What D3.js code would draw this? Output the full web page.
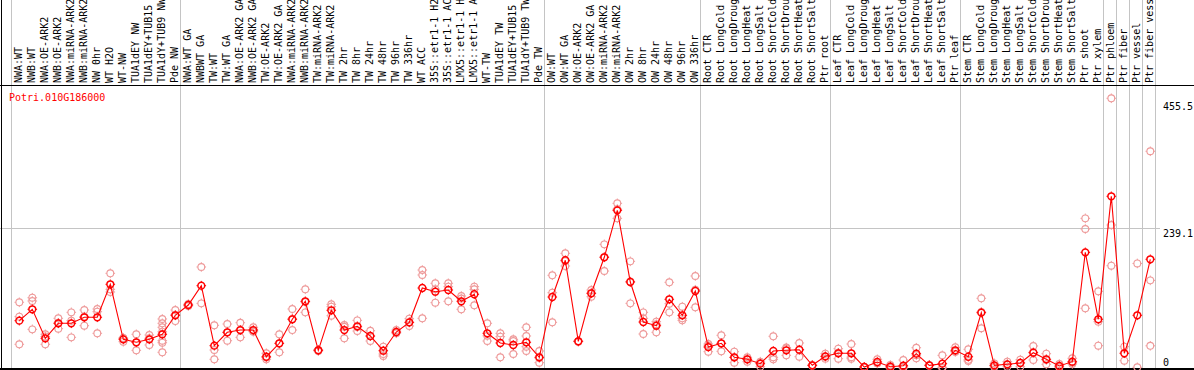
<!DOCTYPE html>
<html>
<head>
<meta charset="utf-8">
<script src="https://cdn.jsdelivr.net/npm/d3@7"></script>
<style>
  html, body { margin: 0; padding: 0; background: #ffffff; overflow: hidden; }
  svg { display: block; }
</style>
</head>
<body>
<div id="chart"></div>
<script>
// Expression profile for one gene, one column per sample
const geneId = 'Potri.010G186000';

const samples = [
  'NWA:WT', 'NWB:WT', 'NWA:OE-ARK2', 'NWB:OE-ARK2', 'NWA:miRNA-ARK2', 'NWB:miRNA-ARK2', 'NW 0hr', 'WT H2O', 'WT-NW',
  'TUA1dEY NW', 'TUA1dEY+TUB15 NW', 'TUA1dY+TUB9 NW', 'Pde NW',
  'NWA:WT GA', 'NWBWT GA', 'TW:WT', 'TW:WT GA', 'NWA:OE-ARK2 GA', 'NWB:OE-ARK2 GA', 'TW:OE-ARK2', 'TW:OE-ARK2 GA',
  'NWA:miRNA-ARK2', 'NWB:miRNA-ARK2', 'TW:miRNA-ARK2', 'TW:miRNA-ARK2', 'TW 2hr', 'TW 8hr', 'TW 24hr', 'TW 48hr',
  'TW 96hr', 'TW 336hr', 'WT ACC', '35S::etr1-1 H2O', '35S::etr1-1 ACC', 'LMX5::etr1-1 H2O', 'LMX5::etr1-1 ACC',
  'WT-TW', 'TUA1dEY TW', 'TUA1dEY+TUB15 TW', 'TUA1dY+TUB9 TW', 'Pde TW',
  'OW:WT', 'OW:WT GA', 'OW:OE-ARK2', 'OW:OE-ARK2 GA', 'OW:miRNA-ARK2', 'OW:miRNA-ARK2', 'OW 2hr', 'OW 8hr',
  'OW 24hr', 'OW 48hr', 'OW 96hr', 'OW 336hr',
  'Root CTR', 'Root LongCold', 'Root LongDrought', 'Root LongHeat', 'Root LongSalt', 'Root ShortCold',
  'Root ShortDrought', 'Root ShortHeat', 'Root ShortSalt', 'Ptr root',
  'Leaf CTR', 'Leaf LongCold', 'Leaf LongDrought', 'Leaf LongHeat', 'Leaf LongSalt', 'Leaf ShortCold',
  'Leaf ShortDrought', 'Leaf ShortHeat', 'Leaf ShortSalt', 'Ptr leaf',
  'Stem CTR', 'Stem LongCold', 'Stem LongDrought', 'Stem LongHeat', 'Stem LongSalt', 'Stem ShortCold',
  'Stem ShortDrought', 'Stem ShortHeat', 'Stem ShortSalt', 'Ptr shoot', 'Ptr xylem',
  'Ptr phloem', 'Ptr fiber', 'Ptr vessel', 'Ptr fiber vessel'
];

// mean expression per sample (red line)
const means = [
  81.0, 100.5, 50.8, 76.5, 76.5, 86.8, 86.8, 143.3, 49.1, 44.0, 49.1, 57.7, 90.2,
  107.8, 140.9, 38.2, 61.1, 65.0, 65.0, 19.3, 42.3, 83.4, 114.2, 30.3, 98.8, 65.0, 71.4, 54.8, 29.6,
  61.6, 78.2, 136.9, 130.6, 133.5, 114.2, 126.2, 59.4, 42.8, 39.4, 44.0, 18.3,
  121.5, 184.4, 45.7, 127.9, 189.5, 269.9, 147.2, 78.7, 72.4, 117.6, 90.2, 131.8,
  35.9, 42.3, 18.3, 14.9, 7.4, 29.1, 30.3, 31.3, 4.6, 20.0,
  25.2, 25.2, 1.7, 10.3, 2.2, 3.9, 24.5, 4.6, 7.4, 30.3,
  19.3, 94.7, 4.6, 6.3, 8.6, 26.2, 14.9, 3.4, 10.8, 198.0, 83.4,
  293.9, 25.2, 90.2, 186.1
];

// individual replicates per sample (pink circles)
const replicates = [
  [112.5, 87.8, 40.6], [120.3, 114.7, 66.2], [57.7, 54, 40.6], [85.1, 77, 67.3], [95.3, 81, 52.5],
  [99.3, 88, 72.4], [101, 96.4, 59.4], [162.1, 134.7, 130.1], [50.8, 45.0, 51.5], [57.7, 44, 30.3],
  [56.5, 51, 39.4], [83.9, 76.5, 69.7, 62.1, 46.7, 43.3, 26.9], [99.3, 91, 80.4],
  [109.5, 106.1, 107.8], [172.9, 110.7], [73.1, 30.8, 14.9], [75.3, 46.7, 61], [77.5, 52.5, 65],
  [69.7, 62.1, 63], [25.2, 14.9, 18], [57.7, 26.9, 42], [101, 65, 84], [134.7, 95.3, 113],
  [29, 31, 31], [109.0, 104.9, 89.5], [73.6, 70.6, 50.8], [81.6, 70, 63.3], [63.8, 54.5, 46.2],
  [36.5, 24.0, 20.5], [65, 59.4, 61], [84.4, 71.9, 78], [167.7, 159.2, 85.1], [145, 135, 111.8],
  [145, 139.2, 114.2], [123.2, 119, 100.5], [139.2, 134.7, 107.3], [76.5, 55, 46.2],
  [59.4, 53.6, 18.3], [49.1, 46.2, 24.0], [69.7, 54.8, 36.5, 29.1], [29.1, 9.1, 17],
  [158.7, 128.9, 78.2], [196.3, 174.6, 183], [45, 46, 46], [133.5, 122.0, 128], [211.7, 166.0, 190],
  [281.9, 256.2, 272], [182.6, 110.7, 148], [95.3, 85.1, 58.2], [79.3, 75, 61.1], [146.7, 95.3, 110],
  [104.9, 81.6, 85], [157.5, 103.9, 134],
  [41.1, 38, 27.9], [56.0, 28.6, 42], [27.9, 9.1, 18], [18.3, 10.8, 15], [10.8, 2.2, 9],
  [54.3, 18.3, 14.9], [35, 33.7, 21.7], [42.8, 19.3, 31], [4, 5, 4.6], [24.5, 19.3, 16],
  [33.0, 15.9, 26], [41.1, 18.6, 15.9], [1, 2, 2], [14.9, 8.0, 8], [5.1, 0, 1.5], [13.7, 2.2, 0],
  [34.7, 22, 16.6], [4.6, 4, 5], [21.7, 1.2, 0], [35.4, 27.9, 28],
  [32.0, 14, 12.0], [119.3, 68.0, 96], [8.0, 4, 1.7], [10.8, 6, 2.2], [14.2, 9, 2.2],
  [37.7, 27, 13.7], [24.5, 14, 6.3], [6.8, 2, 1.2], [16.6, 9, 6.8], [256.2, 237.9, 102.2],
  [131.3, 79.3, 38.2],
  [461.7, 244.8, 175.1], [36.5, 12.5], [179, 1.2], [371, 150, 38]
];

// column index where each tissue group starts (vertical separators)
const groupBreaks = [0, 13, 41, 53, 63, 73, 84, 85, 86, 87, 88];

// right-hand value labels
const yTicks = [0, 239.1, 455.5];
const yGridTicks = [239.1];

const width = 1194, height = 370;
const COL = 13;          // column width
const X0 = 10.7;         // left edge of first column
const PT_OFF = 8.6;      // point offset inside column
const HEADER = 85;       // y of the top frame line
const FONT = '"DejaVu Sans Mono", "Liberation Mono", monospace';
const RED = '#ff0000';
const PINK = '#ee9a9a';
const GRID = '#c4c4c4';

const x = d3.scaleBand()
  .domain(d3.range(samples.length + 1))
  .range([X0, X0 + COL * (samples.length + 1)])
  .paddingInner(0).paddingOuter(0);
const px = function(i) { return x(i) + PT_OFF; };

const y = d3.scaleLinear()
  .domain([0, 455.5])
  .range([368, 101.9]);

const svg = d3.select('#chart')
  .append('svg')
  .attr('width', width)
  .attr('height', height);

// vertical group separators (run through the label header)
svg.append('g')
  .selectAll('line')
  .data(groupBreaks)
  .join('line')
  .attr('x1', function(d) { return Math.round(x(d)) + 0.5; })
  .attr('x2', function(d) { return Math.round(x(d)) + 0.5; })
  .attr('y1', 0)
  .attr('y2', height)
  .attr('stroke', GRID)
  .attr('stroke-width', 1);

// horizontal grid line
svg.append('g')
  .selectAll('line')
  .data(yGridTicks)
  .join('line')
  .attr('x1', 0)
  .attr('x2', 1160)
  .attr('y1', function(d) { return Math.round(y(d)) + 0.5; })
  .attr('y2', function(d) { return Math.round(y(d)) + 0.5; })
  .attr('stroke', GRID)
  .attr('stroke-width', 1);

// frame
svg.append('line')
  .attr('x1', 0).attr('x2', width)
  .attr('y1', HEADER + 0.5).attr('y2', HEADER + 0.5)
  .attr('stroke', '#000').attr('stroke-width', 1);
svg.append('line')
  .attr('x1', 1.5).attr('x2', 1.5)
  .attr('y1', 0).attr('y2', height)
  .attr('stroke', '#000').attr('stroke-width', 1);
svg.append('line')
  .attr('x1', 0).attr('x2', width)
  .attr('y1', 369).attr('y2', 369)
  .attr('stroke', '#000').attr('stroke-width', 2);

// sample labels, rotated
svg.append('g')
  .selectAll('text')
  .data(samples)
  .join('text')
  .attr('transform', function(d, i) { return 'translate(' + (px(i) - 0.5) + ',83) rotate(-90)'; })
  .attr('dominant-baseline', 'central')
  .attr('font-family', FONT)
  .attr('font-size', 10)
  .attr('fill', '#000')
  .text(function(d) { return d; });

// small tick spikes around a circle marker, like the bitmap renderer draws
function drawMarker(g, cx, cy, color, sw) {
  const r = 3.4;
  g.append('circle')
    .attr('cx', cx).attr('cy', cy).attr('r', r)
    .attr('fill', 'none')
    .attr('stroke', color)
    .attr('stroke-width', sw);
  [[1, 0], [-1, 0], [0, 1], [0, -1]].forEach(function(d) {
    g.append('line')
      .attr('x1', cx + d[0] * r).attr('y1', cy + d[1] * r)
      .attr('x2', cx + d[0] * (r + 1.4)).attr('y2', cy + d[1] * (r + 1.4))
      .attr('stroke', color)
      .attr('stroke-width', 1);
  });
}

// replicates
const repG = svg.append('g');
replicates.forEach(function(reps, i) {
  reps.forEach(function(v) {
    drawMarker(repG, px(i), y(v), PINK, 1.1);
  });
});

// mean line
const line = d3.line()
  .x(function(d, i) { return px(i); })
  .y(function(d) { return y(d); });

svg.append('path')
  .datum(means)
  .attr('d', line)
  .attr('fill', 'none')
  .attr('stroke', RED)
  .attr('stroke-width', 1.1);

const meanG = svg.append('g');
means.forEach(function(v, i) {
  drawMarker(meanG, px(i), y(v), RED, 1.5);
});

// gene name
svg.append('text')
  .attr('x', 9)
  .attr('y', 100.5)
  .attr('font-family', FONT)
  .attr('font-size', 10)
  .attr('fill', RED)
  .text(geneId);

// value labels on the right
svg.append('g')
  .selectAll('text')
  .data(yTicks)
  .join('text')
  .attr('x', 1163)
  .attr('y', function(d) { return Math.min(y(d) + 8.5, 366); })
  .attr('font-family', FONT)
  .attr('font-size', 10)
  .attr('fill', '#000')
  .text(function(d) { return d; });
</script>
</body>
</html>
